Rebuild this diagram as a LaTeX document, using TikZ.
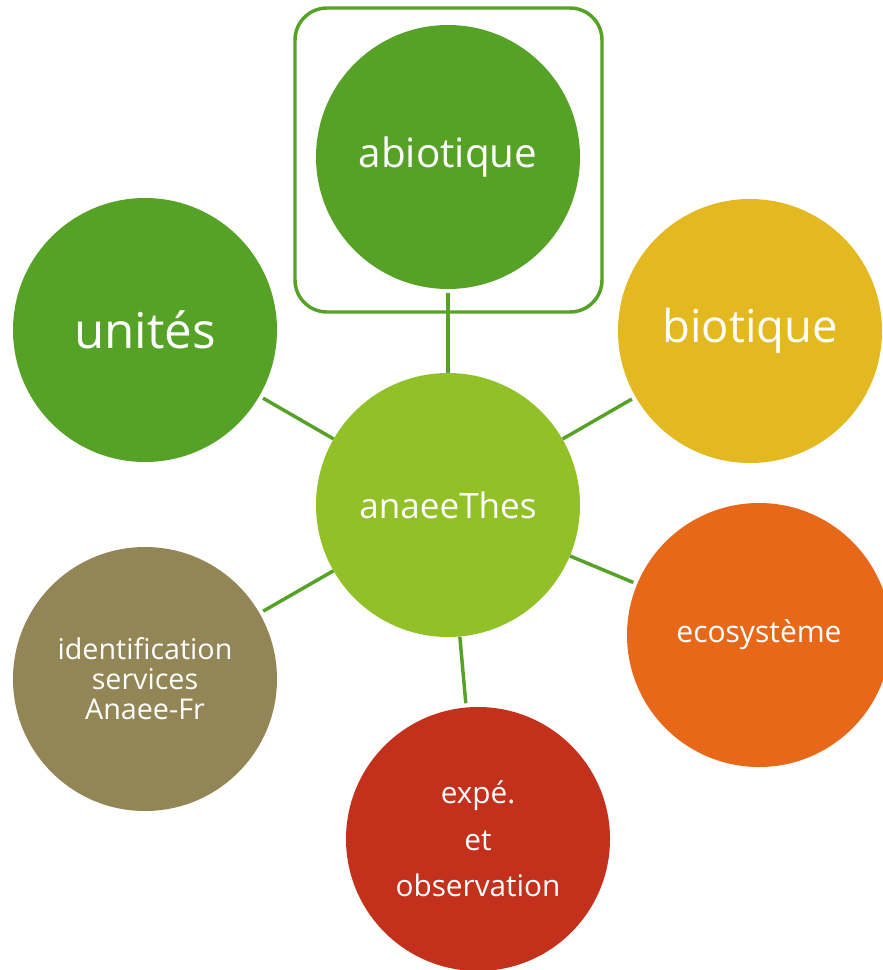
\documentclass[tikz,border=0pt]{standalone}
\usepackage{fontspec}
\setmainfont{Open Sans}
\definecolor{leafgreen}{HTML}{56A226}
\definecolor{limegreen}{HTML}{92C027}
\definecolor{mustard}{HTML}{E4B821}
\definecolor{rust}{HTML}{E8681A}
\definecolor{brick}{HTML}{C3301B}
\definecolor{olive}{HTML}{938656}
\newcommand{\fs}[2]{\fontsize{#1}{#2}\selectfont}
\tikzset{
  bubble/.style={circle,minimum size=198pt,inner sep=0pt,text=white,align=center},
  link/.style={draw=leafgreen,line width=2.6pt,shorten >=3pt}
}

\begin{document}
\begin{tikzpicture}[x=0.75pt,y=-0.75pt]
   \useasboundingbox (0,0) rectangle (882,970);
   % frame round the top bubble
   \draw[leafgreen,line width=2.6pt,rounded corners=24pt] (295,8) rectangle (602,312);
   % bubbles
   \node[bubble,fill=limegreen,font=\fs{26.3}{30}] (anaee) at (448,505) {anaeeThes};
   \node[bubble,fill=leafgreen,font=\fs{30.3}{34}] (abio) at (448,157) {abiotique};
   \node[bubble,fill=leafgreen,font=\fs{37}{40}] (unites) at (145,330) {unités};
   \node[bubble,fill=mustard,font=\fs{34}{38}] (bio) at (750,331) {biotique};
   \node[bubble,fill=rust,font=\fs{22.5}{26}] (eco) at (759,635) {ecosystème};
   \node[bubble,fill=brick,font=\fs{22.3}{35}] (expe) at (478,839) {expé.\\et\\observation};
   \node[bubble,fill=olive,font=\fs{21.5}{22.5}] (ident) at (145,679) {identification\\services\\Anaee-Fr};
   % connectors
   \foreach \n in {abio,unites,bio,eco,expe,ident} {
    \draw[link] (anaee) -- (\n);
   }
  \end{tikzpicture}
\end{document}
